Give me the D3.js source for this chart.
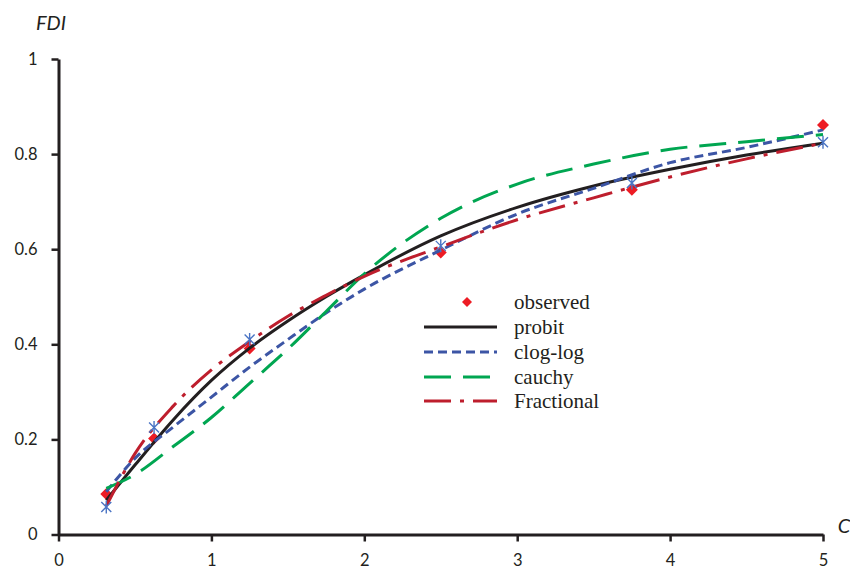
<!DOCTYPE html>
<html>
<head>
<meta charset="utf-8">
<script src="https://cdn.jsdelivr.net/npm/d3@7"></script>
<style>
  html, body { margin: 0; padding: 0; background: #fff; }
  svg { display: block; }
  .tick text { font-family: Lato, "Open Sans", sans-serif; font-size: 16.5px; fill: #231F20; }
</style>
</head>
<body>
<svg id="chart" width="850" height="571"></svg>
<script>
// Concentration grid shared by the fitted curves
const cGrid = [0.3125, 0.5, 0.75, 1, 1.25, 1.5, 1.75, 2, 2.5, 3, 3.5, 4, 4.5, 5];

// Fitted FDI curves
const probit     = [0.072, 0.146, 0.241, 0.324, 0.392, 0.449, 0.500, 0.546, 0.628, 0.688, 0.733, 0.768, 0.798, 0.823];
const clogLog    = [0.090, 0.160, 0.226, 0.289, 0.352, 0.410, 0.466, 0.516, 0.598, 0.674, 0.728, 0.782, 0.814, 0.851];
const cauchy     = [0.097, 0.126, 0.185, 0.246, 0.318, 0.390, 0.469, 0.548, 0.665, 0.737, 0.779, 0.810, 0.826, 0.841];
const fractional = [0.060, 0.170, 0.270, 0.346, 0.406, 0.459, 0.503, 0.543, 0.605, 0.662, 0.708, 0.752, 0.790, 0.823];

// Measured points
const cObs       = [0.3125, 0.625, 1.25, 2.5, 3.75, 5];
const observed   = [0.085, 0.202, 0.391, 0.593, 0.725, 0.861];
const observed2  = [0.058, 0.225, 0.410, 0.607, 0.739, 0.825];

// Axis ticks
const xTicks = [0, 1, 2, 3, 4, 5];
const yTicks = [0, 0.2, 0.4, 0.6, 0.8, 1];
const yTickLabels = ["0", "0.2", "0.4", "0.6", "0.8", "1"];

const legendNames = ["observed", "probit", "clog-log", "cauchy", "Fractional"];

const svg = d3.select("#chart");

const x = d3.scaleLinear().domain([0, 5]).range([58.5, 823]);
const y = d3.scaleLinear().domain([0, 1]).range([534.5, 59]);

const series = [
  { name: "probit",     values: probit,     color: "#231F20", dash: null },
  { name: "clog-log",   values: clogLog,    color: "#3C55A5", dash: "9,5" },
  { name: "cauchy",     values: cauchy,     color: "#00A651", dash: "27,12" },
  { name: "Fractional", values: fractional, color: "#BE1E2D", dash: "27,9,4,9" }
];

// Axes
const xAxis = d3.axisBottom(x).tickValues(xTicks).tickFormat(d3.format("d"))
  .tickSize(7).tickSizeOuter(0).tickPadding(10);
const yAxis = d3.axisLeft(y).tickValues(yTicks).tickFormat((d, i) => yTickLabels[i])
  .tickSize(7).tickSizeOuter(0).tickPadding(14);

const gx = svg.append("g").attr("transform", `translate(0,${y(0)})`).call(xAxis);
const gy = svg.append("g").attr("transform", `translate(${x(0)},0)`).call(yAxis);

[gx, gy].forEach(g => {
  g.select(".domain").attr("stroke", "#231F20").attr("stroke-width", 3);
  g.selectAll(".tick line").attr("stroke", "#231F20").attr("stroke-width", 2.5);
});
gx.selectAll(".tick text").attr("dy", "0.85em");

// Axis titles
svg.append("text")
  .attr("x", 51).attr("y", 30)
  .attr("text-anchor", "middle")
  .style("font-family", "Lato, 'Open Sans', sans-serif")
  .style("font-style", "italic")
  .style("font-size", "20px")
  .attr("fill", "#231F20")
  .text("FDI");

svg.append("text")
  .attr("x", 844).attr("y", 533)
  .attr("text-anchor", "middle")
  .style("font-family", "Lato, 'Open Sans', sans-serif")
  .style("font-style", "italic")
  .style("font-size", "20px")
  .attr("fill", "#231F20")
  .text("C");

// Marker shapes
const diamondPath = "M0,-6L6,0L0,6L-6,0Z";
const asteriskPath = "M-5,-5L5,5M-5,5L5,-5M0,-6.5L0,6.5";

const plot = svg.append("g");

// Observed diamonds
plot.selectAll(".obs")
  .data(cObs.map((c, i) => [c, observed[i]]))
  .join("path")
  .attr("class", "obs")
  .attr("transform", d => `translate(${x(d[0])},${y(d[1])})`)
  .attr("d", diamondPath)
  .attr("fill", "#ED1C24");

// Curves
const line = d3.line()
  .x(d => x(d[0]))
  .y(d => y(d[1]))
  .curve(d3.curveMonotoneX);

series.forEach(s => {
  plot.append("path")
    .datum(cGrid.map((c, i) => [c, s.values[i]]))
    .attr("d", line)
    .attr("fill", "none")
    .attr("stroke", s.color)
    .attr("stroke-width", 3)
    .attr("stroke-dasharray", s.dash);
});

// Second set of measured points (asterisks)
plot.selectAll(".obs2")
  .data(cObs.map((c, i) => [c, observed2[i]]))
  .join("path")
  .attr("class", "obs2")
  .attr("transform", d => `translate(${x(d[0])},${y(d[1])})`)
  .attr("d", asteriskPath)
  .attr("fill", "none")
  .attr("stroke", "#4A74C4")
  .attr("stroke-width", 1.4);

// Legend
const legend = svg.append("g");
const rowY = [302, 327, 352, 377, 401];
const lineX0 = 424, lineX1 = 497, textX = 514;

legend.append("path")
  .attr("transform", `translate(467,${rowY[0]})`)
  .attr("d", "M0,-5L5,0L0,5L-5,0Z")
  .attr("fill", "#ED1C24");

series.forEach((s, i) => {
  legend.append("line")
    .attr("x1", lineX0).attr("x2", lineX1)
    .attr("y1", rowY[i + 1]).attr("y2", rowY[i + 1])
    .attr("stroke", s.color)
    .attr("stroke-width", 3)
    .attr("stroke-dasharray", s.dash);
});

legend.selectAll("text")
  .data(legendNames)
  .join("text")
  .attr("x", textX)
  .attr("y", (d, i) => rowY[i] + 7)
  .style("font-family", "'Liberation Serif', 'DejaVu Serif', serif")
  .style("font-size", "21px")
  .attr("fill", "#231F20")
  .text(d => d);
</script>
</body>
</html>
